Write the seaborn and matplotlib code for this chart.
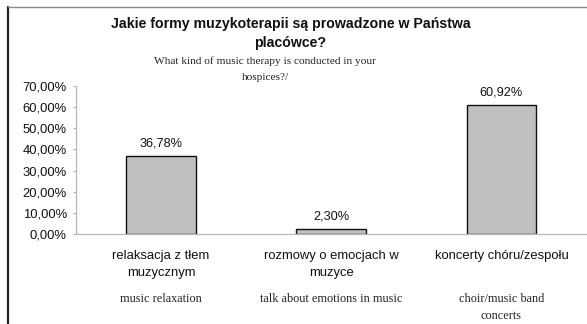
import matplotlib
matplotlib.use("Agg")
import matplotlib.pyplot as plt
from matplotlib.lines import Line2D
import matplotlib.transforms as mtransforms
import seaborn as sns
import pandas as pd

categories_pl = ["relaksacja z tłem\nmuzycznym", "rozmowy o emocjach w\nmuzyce", "koncerty chóru/zespołu"]
categories_en = ["music relaxation", "talk about emotions in music", "choir/music band\nconcerts"]
values = [36.78, 2.30, 60.92]
yticks = [0, 10, 20, 30, 40, 50, 60, 70]

sns.set_theme(style="white")
plt.rcParams["font.family"] = ["Liberation Sans", "DejaVu Sans"]

W, H = 587, 324
fig = plt.figure(figsize=(W / 100, H / 100), dpi=100)
ax = fig.add_axes([76 / W, 1 - 234 / H, (586.5 - 76) / W, (234 - 86) / H])

df = pd.DataFrame({"cat": categories_pl, "val": values})
sns.barplot(data=df, x="cat", y="val", ax=ax, color="#c0c0c0", width=0.41,
            edgecolor="#111111", linewidth=1.0, saturation=1)

ax.set_xlim(-0.5, 2.5)
ax.set_ylim(0, 70)
ax.set_yticks(yticks)
ax.set_yticklabels([f"{t:.2f}".replace(".", ",") + "%" for t in yticks], fontsize=9.4, color="#111111")
ax.set_xlabel("")
ax.set_ylabel("")
ax.tick_params(axis="y", which="both", left=True, length=2.3, width=0.8, color="#b0b0b0", pad=4.3)
ax.tick_params(axis="x", bottom=False, pad=5.5)
ax.set_xticks(range(len(categories_pl)))
ax.set_xticklabels(categories_pl, fontsize=9.4, color="#111111", linespacing=1.55)

for side in ("top", "right"):
    ax.spines[side].set_visible(False)
for side in ("left", "bottom"):
    ax.spines[side].set_color("#b8b8b8")
    ax.spines[side].set_linewidth(0.9)

# value labels above the bars
for i, v in enumerate(values):
    ax.annotate(f"{v:.2f}".replace(".", ",") + "%", xy=(i, v), xytext=(0, 5),
                textcoords="offset points", ha="center", va="bottom",
                fontsize=9.2, color="#111111")

# English translations under the category names
trans = mtransforms.blended_transform_factory(ax.transData, fig.transFigure)
for i, lab in enumerate(categories_en):
    ax.text(i, 1 - 292.5 / H, lab, transform=trans, ha="center", va="top",
            fontsize=8.8, family=["Liberation Serif", "DejaVu Serif"],
            color="#222222", linespacing=1.62)

# titles
fig.text(0.5 - 3 / W, 1 - 33.5 / H, "Jakie formy muzykoterapii są prowadzone w Państwa\nplacówce?",
         ha="center", va="center", fontsize=10.2, fontweight="bold", color="#111111",
         linespacing=1.48)
fig.text(265 / W, 1 - 69 / H, "What kind of music therapy is conducted in your\nhospices?/",
         ha="center", va="center", fontsize=8.2, family=["Liberation Serif", "DejaVu Serif"],
         color="#222222", linespacing=1.95)

# frame lines
fig.add_artist(Line2D([7.5 / W, 7.5 / W], [0, 1 - 6.5 / H], transform=fig.transFigure,
                      color="#222222", linewidth=1.6))
fig.add_artist(Line2D([7.5 / W, 1], [1 - 6.5 / H, 1 - 6.5 / H], transform=fig.transFigure,
                      color="#888888", linewidth=1.0))

fig.savefig("out.png", dpi=100, facecolor="white")
